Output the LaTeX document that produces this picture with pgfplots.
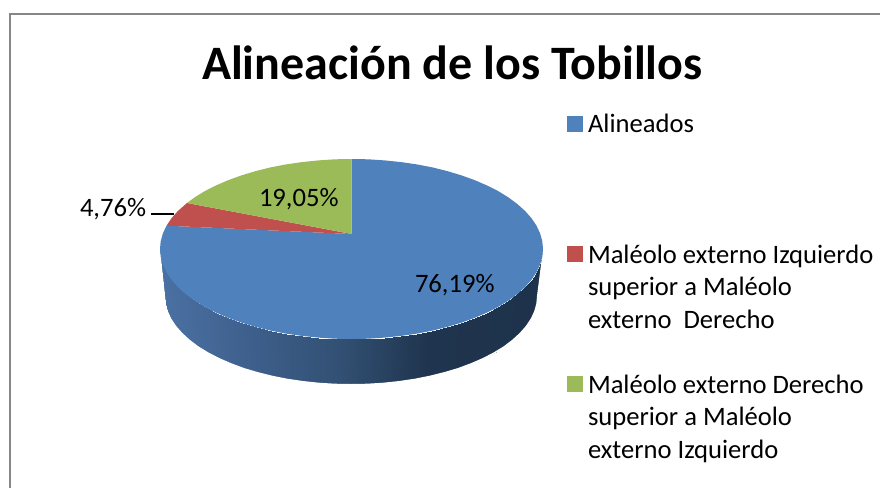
\documentclass[border=0pt]{standalone}
\usepackage{fontspec}
\setmainfont{Carlito}
\usepackage{pgfplots}
\usepackage{pgfplotstable}
\pgfplotsset{compat=1.18}
\definecolor{cblue}{HTML}{4F81BD}
\definecolor{cred}{HTML}{C0504D}
\definecolor{cgreen}{HTML}{9BBB59}
\definecolor{cframe}{HTML}{868686}
\pgfplotstableread{
x y c
160.0 249.0 160
160.7 256.8 160.7
162.9 264.6 162.9
166.5 272.3 166.5
171.5 279.8 171.5
177.9 287.0 177.9
185.7 294.0 185.7
194.6 300.6 194.6
204.8 306.9 204.8
216.1 312.6 216.1
228.4 317.9 228.4
241.7 322.7 241.7
255.7 326.9 255.7
270.6 330.6 270.6
286.0 333.6 286.0
301.9 335.9 301.9
318.3 337.6 318.3
334.8 338.7 334.8
351.5 339.0 351.5
368.2 338.7 368.2
384.7 337.6 384.7
401.1 335.9 401.1
417.0 333.6 417.0
432.4 330.6 432.4
447.3 326.9 447.3
461.3 322.7 461.3
474.6 317.9 474.6
486.9 312.6 486.9
498.2 306.9 498.2
508.4 300.6 508.4
517.3 294.0 517.3
525.1 287.0 525.1
531.5 279.8 531.5
536.5 272.3 536.5
540.1 264.6 540.1
542.3 256.8 542.3
543.0 249.0 543
165.0 296.0 160
165.7 303.7 160.7
167.8 311.3 162.9
171.3 318.8 166.5
176.2 326.1 171.5
182.4 333.2 177.9
189.9 340.0 185.7
198.6 346.5 194.6
208.5 352.6 204.8
219.5 358.2 216.1
231.4 363.4 228.4
244.3 368.1 241.7
258.0 372.2 255.7
272.4 375.8 270.6
287.4 378.7 286.0
302.9 381.0 301.9
318.7 382.7 318.3
334.8 383.7 334.8
351.0 384.0 351.5
367.2 383.7 368.2
383.3 382.7 384.7
399.1 381.0 401.1
414.6 378.7 417.0
429.6 375.8 432.4
444.0 372.2 447.3
457.7 368.1 461.3
470.6 363.4 474.6
482.5 358.2 486.9
493.5 352.6 498.2
503.4 346.5 508.4
512.1 340.0 517.3
519.6 333.2 525.1
525.8 326.1 531.5
530.7 318.8 536.5
534.2 311.3 540.1
536.3 303.7 542.3
537.0 296.0 543
}\sidetable
\begin{document}
\begin{tikzpicture}
\useasboundingbox (0,0) rectangle (880pt,488pt);
\begin{axis}[
  at={(0,0)}, anchor=south west,
  scale only axis, width=880pt, height=488pt,
  xmin=0, xmax=880, ymin=0, ymax=488, y dir=reverse,
  hide axis, clip=true,
  colormap={side}{rgb255(0)=(74,113,163); rgb255(90)=(62,95,140); rgb255(180)=(50,80,115); rgb255(270)=(31,52,78); rgb255(383)=(30,50,75)},
  point meta min=160, point meta max=543,
]
% frame
\addplot[cframe, line width=1.7pt, forget plot] coordinates {(10,488) (10,14) (880,14)};
% side of the pie
\addplot[surf, shader=interp, mesh/rows=2, mesh/ordering=x varies, point meta=\thisrow{c}, forget plot]
  table[x=x, y=y] {\sidetable};
% clean outer edge of the side
\addplot[white, line width=1.6pt, forget plot] coordinates {
(159.2,249) (164.2,296) (164.9,303.8) (167.0,311.4) (170.5,319.0) (175.4,326.4) (181.7,333.5) (189.2,340.4)
(197.9,347.0) (207.9,353.1) (218.9,358.8) (230.9,364.0) (243.8,368.8) (257.6,372.9) (272.1,376.5) (287.1,379.5)
(302.7,381.8) (318.6,383.5) (334.7,384.5) (351,384.8) (367.3,384.5) (383.4,383.5) (399.3,381.8) (414.9,379.5)
(429.9,376.5) (444.4,372.9) (458.2,368.8) (471.1,364.0) (483.1,358.8) (494.1,353.1) (504.1,347.0) (512.8,340.4)
(520.3,333.5) (526.6,326.4) (531.5,319.0) (535.0,311.4) (537.1,303.8) (537.8,296) (543.8,249)};
% 76,19 %
\addplot[fill=cblue, draw=none, forget plot] coordinates {
(351.7,234) (351.5,159) (368.2,159.3) (384.7,160.4) (401.1,162.1) (417.0,164.4) (432.4,167.4) (447.3,171.1)
(461.3,175.3) (474.6,180.1) (486.9,185.4) (498.2,191.1) (508.4,197.4) (517.3,204) (525.1,211) (531.5,218.2)
(536.5,225.7) (540.1,233.4) (542.3,241.2) (543,249) (542.3,256.8) (540.1,264.6) (536.5,272.3) (531.5,279.8)
(525.1,287) (517.3,294) (508.4,300.6) (498.2,306.9) (486.9,312.6) (474.6,317.9) (461.3,322.7) (447.3,326.9)
(432.4,330.6) (417.0,333.6) (401.1,335.9) (384.7,337.6) (368.2,338.7) (351.5,339) (334.8,338.7) (318.3,337.6)
(301.9,335.9) (286.0,333.6) (270.6,330.6) (255.7,326.9) (241.7,322.7) (228.4,317.9) (216.1,312.6) (204.8,306.9)
(194.6,300.6) (185.7,294) (177.9,287) (171.5,279.8) (166.5,272.3) (162.9,264.6) (160.7,256.8) (160,249)
(160.7,241.2) (162.9,233.4) (166.5,225.7)};
% 4,76 %
\addplot[fill=cred, draw=none, forget plot] coordinates {
(351.7,234) (166.5,225.7) (171.5,218.2) (177.9,211) (187,203)};
% 19,05 %
\addplot[fill=cgreen, draw=none, forget plot] coordinates {
(351.7,234) (187,203) (194.6,197.4) (204.8,191.1) (216.1,185.4) (228.4,180.1) (241.7,175.3) (255.7,171.1)
(270.6,167.4) (286,164.4) (301.9,162.1) (318.3,160.4) (334.8,159.3) (351.5,159)};
% leader
\addplot[black, line width=1.5pt, forget plot] coordinates {(151,214) (174,214)};
% legend keys
\addplot[cblue, only marks, mark=square*, mark size=7.5pt, line width=0pt, forget plot] coordinates {(574.5,123.5)};
\addplot[cred, only marks, mark=square*, mark size=7.5pt, line width=0pt, forget plot] coordinates {(574.5,253.5)};
\addplot[cgreen, only marks, mark=square*, mark size=7.5pt, line width=0pt, forget plot] coordinates {(574.5,383.5)};
\end{axis}
% text
\begin{scope}[every node/.style={inner sep=0pt, outer sep=0pt, anchor=base west, font=\fontsize{26.6}{32}\selectfont}]
\def\py#1{\the\numexpr488-#1\relax pt}
\node[font=\fontsize{48}{54}\bfseries\selectfont] at (202pt,\py{80}) {Alineación de los Tobillos};
\node at (80pt,\py{216}) {4,76\%};
\node at (259pt,\py{206}) {19,05\%};
\node at (415pt,\py{292}) {76,19\%};
\node at (588pt,\py{133}) {Alineados};
\node at (588pt,\py{263}) {Maléolo externo Izquierdo};
\node at (588pt,\py{295}) {superior a Maléolo};
\node at (588pt,\py{328}) {externo\ \ Derecho};
\node at (588pt,\py{393}) {Maléolo externo Derecho};
\node at (588pt,\py{425}) {superior a Maléolo};
\node at (588pt,\py{458}) {externo Izquierdo};
\end{scope}
\end{tikzpicture}
\end{document}
